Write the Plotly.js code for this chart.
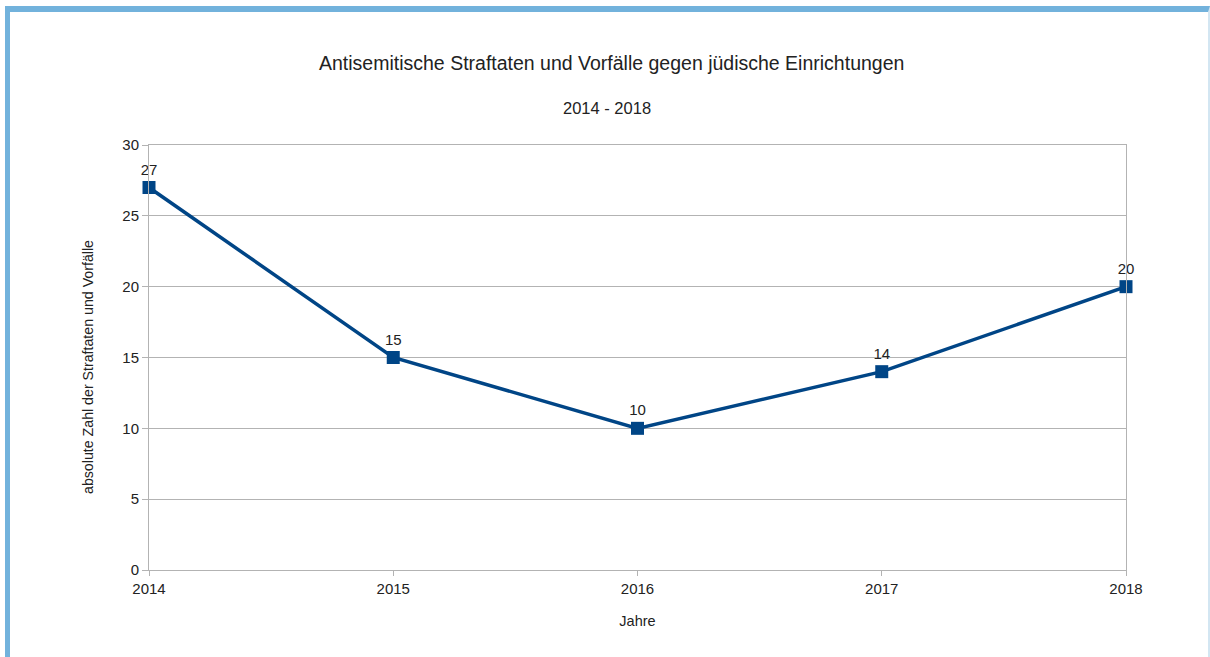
<!DOCTYPE html>
<html>
<head>
<meta charset="utf-8">
<script src="https://cdn.plot.ly/plotly-3.0.1.min.js"></script>
<style>
  html, body { margin: 0; padding: 0; background: #ffffff; width: 1210px; height: 657px; overflow: hidden; }
  #frame { position: absolute; left: 5px; top: 6px; width: 1198px; height: 660px;
           border-left: 5px solid #72b2dc; border-top: 6px solid #72b2dc; border-right: 2px solid #d3e6f2; }
  #chart { position: absolute; left: 0; top: 0; width: 1210px; height: 657px; }
</style>
</head>
<body>
<div id="frame"></div>
<div id="chart"></div>
<script>
const years = [2014, 2015, 2016, 2017, 2018];
const incidents = [27, 15, 10, 14, 20];
const yTicks = [0, 5, 10, 15, 20, 25, 30];

const titleText = "Antisemitische Straftaten und Vorfälle gegen jüdische Einrichtungen";
const subtitleText = "2014 - 2018";
const xTitle = "Jahre";
const yTitle = "absolute Zahl der Straftaten und Vorfälle";

const fontFam = "Liberation Sans, Arial, sans-serif";
const txtColor = "#222222";
const gridColor = "#b3b3b3";

const trace = {
  x: years,
  y: incidents,
  type: "scatter",
  mode: "lines+markers+text",
  text: incidents.map(String),
  textposition: "top center",
  textfont: { family: fontFam, size: 15, color: txtColor },
  line: { color: "#004586", width: 3.5 },
  marker: { symbol: "square", size: 13, color: "#004586" },
  cliponaxis: false,
  hoverinfo: "x+y"
};

const plotL = 149, plotR = 1126, plotT = 145, plotB = 570;
const px = v => (v - plotL) / (plotR - plotL);
const py = v => (plotB - v) / (plotB - plotT);

const layout = {
  width: 1210,
  height: 657,
  margin: { l: plotL, r: 1210 - plotR, t: plotT, b: 657 - plotB },
  paper_bgcolor: "rgba(0,0,0,0)",
  plot_bgcolor: "rgba(0,0,0,0)",
  showlegend: false,
  font: { family: fontFam, size: 14, color: txtColor },
  xaxis: {
    range: [2014, 2018],
    tickvals: years,
    ticktext: years.map(String),
    showgrid: false,
    zeroline: false,
    showline: true,
    mirror: true,
    linecolor: gridColor,
    linewidth: 1,
    ticks: "outside",
    ticklen: 5,
    tickcolor: gridColor,
    tickfont: { family: fontFam, size: 15, color: txtColor },
    title: { text: xTitle, font: { family: fontFam, size: 14.5, color: txtColor }, standoff: 19 }
  },
  yaxis: {
    range: [0, 30],
    tickvals: yTicks,
    showgrid: true,
    gridcolor: gridColor,
    gridwidth: 1,
    zeroline: false,
    showline: true,
    mirror: true,
    linecolor: gridColor,
    linewidth: 1,
    ticks: "outside",
    ticklen: 6,
    tickcolor: gridColor,
    tickfont: { family: fontFam, size: 15, color: txtColor }
  },
  annotations: [
    {
      text: titleText, xref: "paper", yref: "paper",
      x: px(611), y: py(63),
      xanchor: "center", yanchor: "middle", showarrow: false,
      font: { family: fontFam, size: 19.5, color: txtColor }
    },
    {
      text: subtitleText, xref: "paper", yref: "paper",
      x: px(607), y: py(108),
      xanchor: "center", yanchor: "middle", showarrow: false,
      font: { family: fontFam, size: 16.5, color: txtColor }
    },
    {
      text: yTitle, xref: "paper", yref: "paper",
      x: px(88), y: py(367), textangle: -90,
      xanchor: "center", yanchor: "middle", showarrow: false,
      font: { family: fontFam, size: 14.2, color: txtColor }
    }
  ]
};

Plotly.newPlot("chart", [trace], layout, { displayModeBar: false, staticPlot: true });
</script>
</body>
</html>
